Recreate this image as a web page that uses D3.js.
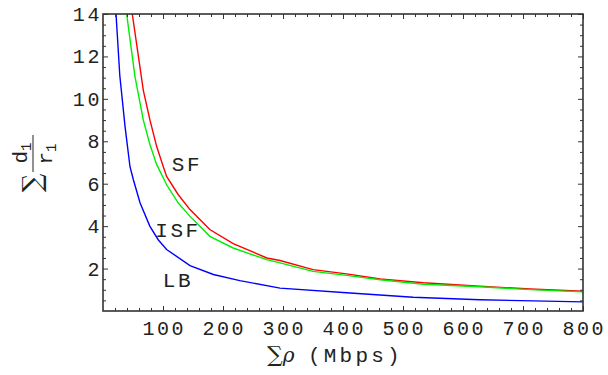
<!DOCTYPE html>
<html>
<head>
<meta charset="utf-8">
<script src="https://cdn.jsdelivr.net/npm/d3@7"></script>
<style>
  body { margin: 0; background: #fff; }
  svg { display: block; }
  .tick-label { font-family: "Liberation Mono", "Courier New", monospace; font-size: 20px; fill: #222; letter-spacing: 2.6px; }
  .curve-label { font-family: "Liberation Mono", "Courier New", monospace; font-size: 21px; fill: #222; letter-spacing: 2.6px; }
</style>
</head>
<body>
<div id="chart"></div>
<script>
// values
const lbRho = [21.7, 28, 36.7, 45, 50.5, 61.7, 78, 92, 106, 145, 184, 228, 295, 406, 517, 628, 800];
const lbDelay = [14, 11.1, 8.7, 6.8, 6.2, 5.1, 4.0, 3.36, 2.9, 2.14, 1.72, 1.43, 1.08, 0.86, 0.65, 0.53, 0.43];

const isfRho = [39.4, 53.3, 67.2, 78.3, 89.5, 106, 125.5, 145, 178, 217, 273, 295, 350, 406, 462, 534, 628, 712, 800];
const isfDelay = [14, 11.05, 9.0, 7.84, 6.9, 5.95, 5.09, 4.46, 3.52, 2.97, 2.42, 2.27, 1.87, 1.68, 1.47, 1.26, 1.14, 1.01, 0.9];

const sfRho = [48.8, 67.2, 78.3, 89.5, 100.5, 106, 125.5, 145, 178, 217, 273, 295, 350, 406, 462, 534, 628, 712, 800];
const sfDelay = [14, 10.4, 9.0, 7.75, 6.8, 6.34, 5.48, 4.78, 3.84, 3.18, 2.5, 2.38, 1.95, 1.75, 1.51, 1.33, 1.17, 1.04, 0.93];

const xTicks = [100, 200, 300, 400, 500, 600, 700, 800];
const yTicks = [2, 4, 6, 8, 10, 12, 14];

const series = [
  {name: "SF", rho: sfRho, delay: sfDelay, color: "#ff0000", labelAt: [140, 6.6]},
  {name: "ISF", rho: isfRho, delay: isfDelay, color: "#00ee00", labelAt: [125, 3.5]},
  {name: "LB", rho: lbRho, delay: lbDelay, color: "#0000ff", labelAt: [125, 1.15]}
];

const W = 608, H = 375;
const plotL = 103, plotR = 583, plotT = 14, plotB = 311;

const svg = d3.select("#chart").append("svg")
  .attr("width", W)
  .attr("height", H);

const x = d3.scaleLinear().domain([0, 800]).range([plotL, plotR]);
const y = d3.scaleLinear().domain([0, 14]).range([plotB, plotT]);

svg.append("clipPath").attr("id", "plot-clip")
  .append("rect")
  .attr("x", plotL).attr("y", plotT)
  .attr("width", plotR - plotL).attr("height", plotB - plotT);

// curves
const line = d3.line().x(d => x(d[0])).y(d => y(d[1]));
const curves = svg.append("g").attr("clip-path", "url(#plot-clip)");
series.forEach(s => {
  curves.append("path")
    .datum(s.rho.map((r, i) => [r, s.delay[i]]))
    .attr("d", line)
    .attr("fill", "none")
    .attr("stroke", s.color)
    .attr("stroke-width", 1.4);
});

// frame with inward ticks on all four sides
const frameColor = "#333";
const xMinor = d3.range(20, 800, 20).filter(v => v % 100 !== 0);
const yMinor = d3.range(0.5, 14, 0.5).filter(v => v % 2 !== 0);

// bottom
svg.append("g").attr("transform", `translate(0,${plotB})`)
  .call(d3.axisTop(x).tickValues(xTicks).tickSize(5).tickFormat("").tickSizeOuter(0));
svg.append("g").attr("transform", `translate(0,${plotB})`)
  .call(d3.axisTop(x).tickValues(xMinor).tickSize(3).tickFormat("").tickSizeOuter(0));
// top
svg.append("g").attr("transform", `translate(0,${plotT})`)
  .call(d3.axisBottom(x).tickValues(xTicks).tickSize(5).tickFormat("").tickSizeOuter(0));
svg.append("g").attr("transform", `translate(0,${plotT})`)
  .call(d3.axisBottom(x).tickValues(xMinor).tickSize(3).tickFormat("").tickSizeOuter(0));
// left
svg.append("g").attr("transform", `translate(${plotL},0)`)
  .call(d3.axisRight(y).tickValues(yTicks).tickSize(5).tickFormat("").tickSizeOuter(0));
svg.append("g").attr("transform", `translate(${plotL},0)`)
  .call(d3.axisRight(y).tickValues(yMinor).tickSize(3).tickFormat("").tickSizeOuter(0));
// right
svg.append("g").attr("transform", `translate(${plotR},0)`)
  .call(d3.axisLeft(y).tickValues(yTicks).tickSize(5).tickFormat("").tickSizeOuter(0));
svg.append("g").attr("transform", `translate(${plotR},0)`)
  .call(d3.axisLeft(y).tickValues(yMinor).tickSize(3).tickFormat("").tickSizeOuter(0));

svg.selectAll(".domain").remove();
svg.selectAll(".tick line").attr("stroke", frameColor).attr("stroke-width", 1);

svg.append("rect")
  .attr("x", plotL).attr("y", plotT)
  .attr("width", plotR - plotL).attr("height", plotB - plotT)
  .attr("fill", "none")
  .attr("stroke", frameColor)
  .attr("stroke-width", 1.6);

// tick labels
svg.append("g").selectAll("text")
  .data(xTicks).join("text")
  .attr("class", "tick-label")
  .attr("x", d => x(d) + 1.3)
  .attr("y", plotB + 24)
  .attr("text-anchor", "middle")
  .text(d => d);

svg.append("g").selectAll("text")
  .data(yTicks).join("text")
  .attr("class", "tick-label")
  .attr("x", plotL - 1)
  .attr("y", d => y(d) + 7)
  .attr("text-anchor", "end")
  .text(d => d);

// curve labels
svg.append("g").selectAll("text")
  .data(series).join("text")
  .attr("class", "curve-label")
  .attr("x", d => x(d.labelAt[0]))
  .attr("y", d => y(d.labelAt[1]))
  .attr("text-anchor", "middle")
  .text(d => d.name);

// x axis title
const xt = svg.append("text")
  .attr("x", 267).attr("y", 362)
  .attr("fill", "#222")
  .style("font-family", "'DejaVu Serif', serif");
xt.append("tspan").style("font-size", "22px").style("font-weight", "200").text("\u2211");
xt.append("tspan").style("font-size", "20px").style("font-style", "italic").text("\u03C1");
svg.append("text")
  .attr("x", 308).attr("y", 362)
  .attr("fill", "#222")
  .style("font-family", "'Liberation Mono', 'Courier New', monospace")
  .style("font-size", "21px")
  .style("letter-spacing", "3.2px")
  .text("(Mbps)");

// y axis title: sum of d1 over r1, rotated
const yt = svg.append("g").attr("transform", "translate(33,160) rotate(-90)")
  .attr("fill", "#222")
  .style("font-family", "'Liberation Mono', 'Courier New', monospace")
  .style("font-size", "21px");
yt.append("text")
  .attr("x", -23).attr("y", 8)
  .attr("text-anchor", "middle")
  .style("font-family", "'DejaVu Serif', serif")
  .style("font-size", "26px")
  .style("font-weight", "200")
  .text("\u2211");
const num = yt.append("text").attr("x", 7).attr("y", -6).attr("text-anchor", "middle");
num.append("tspan").text("d");
num.append("tspan").attr("dy", 4).style("font-size", "14px").text("1");
const den = yt.append("text").attr("x", 6).attr("y", 19).attr("text-anchor", "middle");
den.append("tspan").text("r");
den.append("tspan").attr("dy", 4).style("font-size", "14px").text("1");
yt.append("line")
  .attr("x1", -12).attr("x2", 25).attr("y1", 0).attr("y2", 0)
  .attr("stroke", "#222").attr("stroke-width", 1);
</script>
</body>
</html>
